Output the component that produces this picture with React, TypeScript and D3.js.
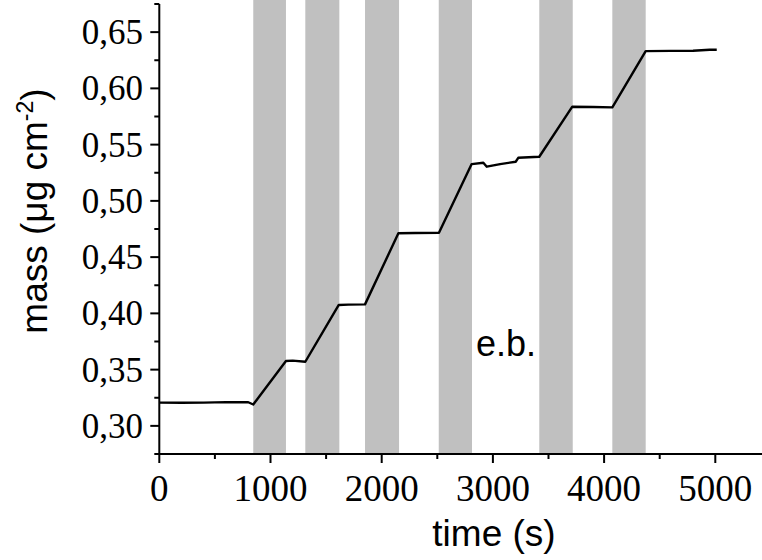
import React from "react";
import * as d3 from "d3";

const times = [0, 200, 400, 600, 800, 845, 1139, 1200, 1313, 1614, 1700, 1850, 2150, 2300, 2515, 2809, 2914, 2945, 3065, 3205, 3228, 3417, 3714, 3900, 4074, 4374, 4600, 4800, 4950, 5013];
const masses = [0.3207, 0.3205, 0.3207, 0.3211, 0.3210, 0.3190, 0.3577, 0.3580, 0.3570, 0.4075, 0.4078, 0.4080, 0.4712, 0.4715, 0.4717, 0.5327, 0.5339, 0.5304, 0.5327, 0.5348, 0.5383, 0.5392, 0.5837, 0.5835, 0.5831, 0.6331, 0.6333, 0.6335, 0.6343, 0.6343];
const bandStarts = [845, 1313, 1850, 2513, 3417, 4074];
const bandEnds = [1139, 1619, 2156, 2812, 3718, 4374];
const yMajor = [0.30, 0.35, 0.40, 0.45, 0.50, 0.55, 0.60, 0.65];
const yMinor = [0.275, 0.325, 0.375, 0.425, 0.475, 0.525, 0.575, 0.625, 0.675];
const xMajor = [0, 1000, 2000, 3000, 4000, 5000];
const xMinor = [500, 1500, 2500, 3500, 4500, 5500];

export default function App() {
  const W = 762, H = 560;
  const x = d3.scaleLinear().domain([0, 5000]).range([159.3, 715.3]);
  const y = d3.scaleLinear().domain([0.275, 0.675]).range([454, 4]);
  const axisY = y(0.275);
  const data = times.map((t, i) => [t, masses[i]] as [number, number]);
  const line = d3.line<[number, number]>().x(d => x(d[0])).y(d => y(d[1]));
  const fmt = (v: number) => v.toFixed(2).replace(".", ",");
  return (
    <svg width={W} height={H} style={{ position: "absolute", left: 0, top: 0, background: "#fff" }}>
      {bandStarts.map((s, i) => (
        <rect key={i} x={x(s)} y={0} width={x(bandEnds[i]) - x(s)} height={axisY} fill="#c0c0c0" />
      ))}
      <path d={line(data) || ""} fill="none" stroke="#000" strokeWidth={2.4} strokeLinejoin="round" />
      {/* y axis */}
      <line x1={x(0)} x2={x(0)} y1={y(0.675)} y2={axisY + 1} stroke="#000" strokeWidth={2} />
      {yMajor.map(v => (
        <g key={"ym" + v}>
          <line x1={x(0) - 9} x2={x(0)} y1={y(v)} y2={y(v)} stroke="#000" strokeWidth={2} />
          <text x={143} y={y(v)} dy="0.34em" textAnchor="end" fontFamily="'Liberation Serif', 'Times New Roman', serif" fontSize={35} fill="#000">{fmt(v)}</text>
        </g>
      ))}
      {yMinor.map(v => (
        <line key={"yn" + v} x1={x(0) - 5} x2={x(0)} y1={y(v)} y2={y(v)} stroke="#000" strokeWidth={2} />
      ))}
      {/* x axis */}
      <line x1={x(0) - 1} x2={W} y1={axisY} y2={axisY} stroke="#000" strokeWidth={2} />
      {xMajor.map(v => (
        <g key={"xm" + v}>
          <line x1={x(v)} x2={x(v)} y1={axisY} y2={axisY + 9} stroke="#000" strokeWidth={2} />
          <text x={x(v)} y={501} textAnchor="middle" fontFamily="'Liberation Serif', 'Times New Roman', serif" fontSize={37} fill="#000">{v}</text>
        </g>
      ))}
      {xMinor.map(v => (
        <line key={"xn" + v} x1={x(v)} x2={x(v)} y1={axisY} y2={axisY + 5} stroke="#000" strokeWidth={2} />
      ))}
      <text x={494} y={546} textAnchor="middle" fontFamily="'Liberation Sans', Arial, sans-serif" fontSize={37} fill="#000">time (s)</text>
      <text transform={`translate(47,211) rotate(-90)`} textAnchor="middle" fontFamily="'Liberation Sans', Arial, sans-serif" fontSize={37} fill="#000">
        mass (μg cm<tspan dy={-14} fontSize={23}>-2</tspan><tspan dy={14}>)</tspan>
      </text>
      <text x={506} y={356} textAnchor="middle" fontFamily="'Liberation Sans', Arial, sans-serif" fontSize={36} fill="#000">e.b.</text>
    </svg>
  );
}
